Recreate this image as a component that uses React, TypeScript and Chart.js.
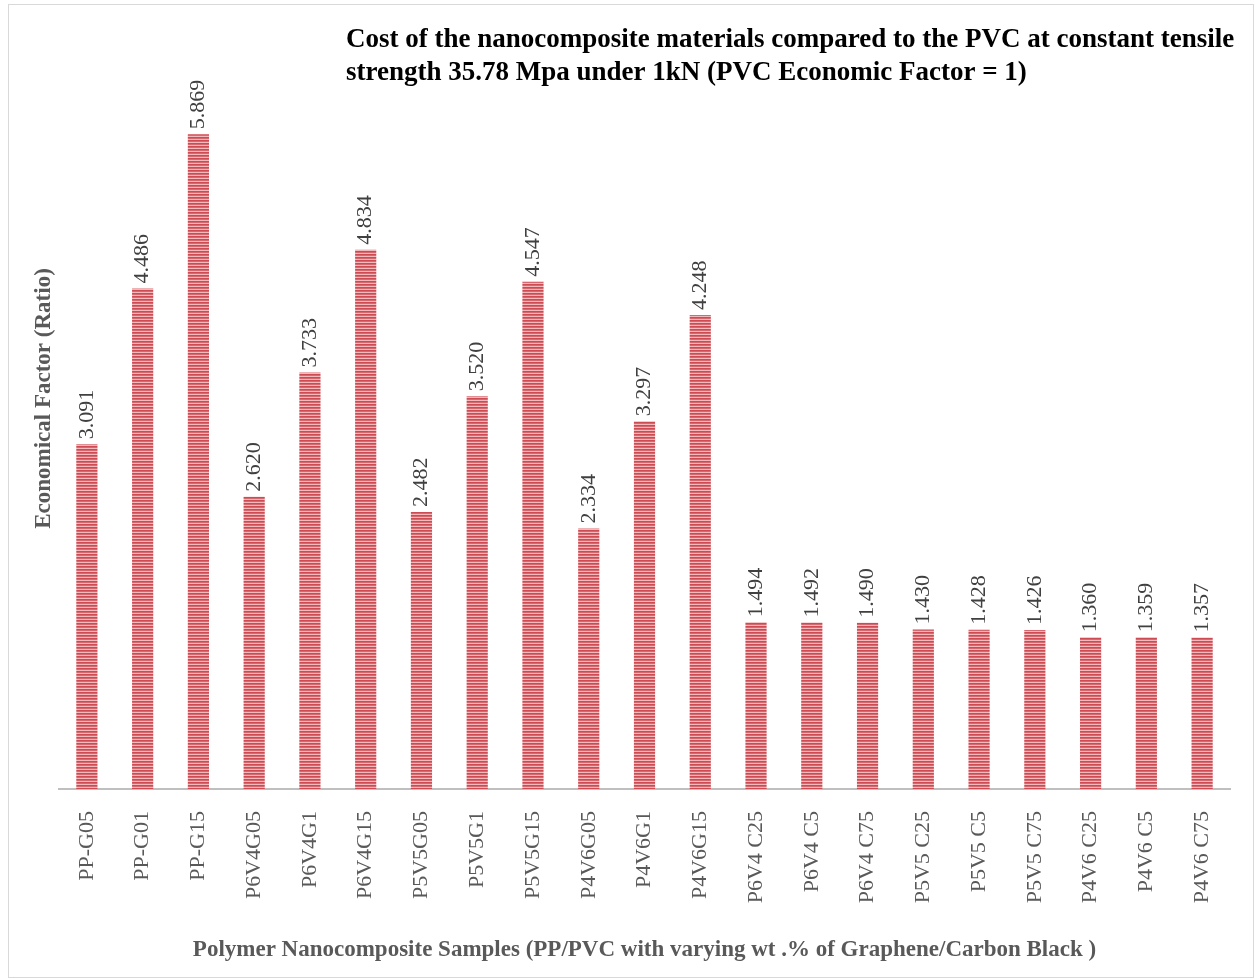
import { useEffect, useRef } from "react";
import { Chart, registerables } from "chart.js";

Chart.register(...registerables);

const categories = [
  "PP-G05", "PP-G01", "PP-G15",
  "P6V4G05", "P6V4G1", "P6V4G15",
  "P5V5G05", "P5V5G1", "P5V5G15",
  "P4V6G05", "P4V6G1", "P4V6G15",
  "P6V4 C25", "P6V4 C5", "P6V4 C75",
  "P5V5 C25", "P5V5 C5", "P5V5 C75",
  "P4V6 C25", "P4V6 C5", "P4V6 C75",
];

const values = [
  3.091, 4.486, 5.869,
  2.62, 3.733, 4.834,
  2.482, 3.52, 4.547,
  2.334, 3.297, 4.248,
  1.494, 1.492, 1.49,
  1.43, 1.428, 1.426,
  1.36, 1.359, 1.357,
];

const titleLines = [
  "Cost of the nanocomposite materials compared to the PVC at constant tensile",
  "strength 35.78 Mpa under 1kN (PVC Economic Factor = 1)",
];
const xTitle =
  "Polymer Nanocomposite Samples (PP/PVC with varying wt .% of Graphene/Carbon Black )";
const yTitle = "Economical Factor (Ratio)";

const SERIF = '"Liberation Serif", "Times New Roman", serif';

function makePattern(): CanvasPattern | string {
  const c = document.createElement("canvas");
  c.width = 1;
  c.height = 3;
  const g = c.getContext("2d");
  if (!g) return "#dd797e";
  const rows = ["#cd4b52", "#d9686e", "#f1b9bb"];
  rows.forEach((col, i) => {
    g.fillStyle = col;
    g.fillRect(0, i, 1, 1);
  });
  return g.createPattern(c, "repeat") || "#dd797e";
}

const titlePlugin = {
  id: "customTitle",
  afterDraw(chart: any) {
    const ctx = chart.ctx;
    ctx.save();
    ctx.font = `bold 27px ${SERIF}`;
    ctx.fillStyle = "#000000";
    ctx.textAlign = "left";
    ctx.textBaseline = "alphabetic";
    ctx.fillText(titleLines[0], 337, 42);
    ctx.fillText(titleLines[1], 337, 75);
    ctx.restore();
  },
};

const valueLabelPlugin = {
  id: "valueLabels",
  afterDatasetsDraw(chart: any) {
    const ctx = chart.ctx;
    const meta = chart.getDatasetMeta(0);
    ctx.save();
    ctx.font = `22px ${SERIF}`;
    ctx.fillStyle = "#404040";
    ctx.textAlign = "left";
    ctx.textBaseline = "middle";
    meta.data.forEach((bar: any, i: number) => {
      ctx.save();
      ctx.translate(bar.x, bar.y - 5);
      ctx.rotate(-Math.PI / 2);
      ctx.fillText(values[i].toFixed(3), 0, 0);
      ctx.restore();
    });
    ctx.restore();
  },
};

export default function App() {
  const ref = useRef<HTMLCanvasElement | null>(null);

  useEffect(() => {
    if (!ref.current) return;
    const chart = new Chart(ref.current, {
      type: "bar",
      data: {
        labels: categories,
        datasets: [
          {
            data: values,
            backgroundColor: makePattern() as any,
            borderWidth: 0,
            barPercentage: 0.38,
            categoryPercentage: 1,
          },
        ],
      },
      options: {
        responsive: false,
        animation: false,
        layout: { padding: { top: 3, right: 23, left: 0, bottom: 0 } },
        plugins: {
          legend: { display: false },
          tooltip: { enabled: false },
          title: { display: false },
        },
        scales: {
          x: {
            grid: { display: false },
            border: { display: true, color: "#bfbfbf", width: 2 },
            ticks: {
              autoSkip: false,
              maxRotation: 90,
              minRotation: 90,
              padding: 14,
              color: "#595959",
              font: { family: SERIF, size: 22 },
            },
            title: {
              display: true,
              text: xTitle,
              color: "#595959",
              font: { family: SERIF, size: 23, weight: "bold" },
              padding: { top: 0, bottom: 13 },
            },
            afterFit: (s: any) => {
              s.height = 188;
            },
          },
          y: {
            min: 0,
            max: 7,
            ticks: { display: false },
            grid: { display: false },
            border: { display: false },
            title: {
              display: true,
              text: yTitle,
              color: "#595959",
              font: { family: SERIF, size: 23, weight: "bold" },
              padding: { top: 21, bottom: 0 },
            },
            afterFit: (s: any) => {
              s.width = 50;
            },
          },
        },
      },
      plugins: [titlePlugin, valueLabelPlugin],
    } as any);
    return () => chart.destroy();
  }, []);

  return (
    <div
      style={{
        position: "absolute",
        left: 8,
        top: 4,
        width: 1246,
        height: 974,
        border: "1px solid #d9d9d9",
        boxSizing: "border-box",
        background: "#ffffff",
      }}
    >
      <canvas ref={ref} width={1244} height={972} style={{ display: "block" }} />
    </div>
  );
}
